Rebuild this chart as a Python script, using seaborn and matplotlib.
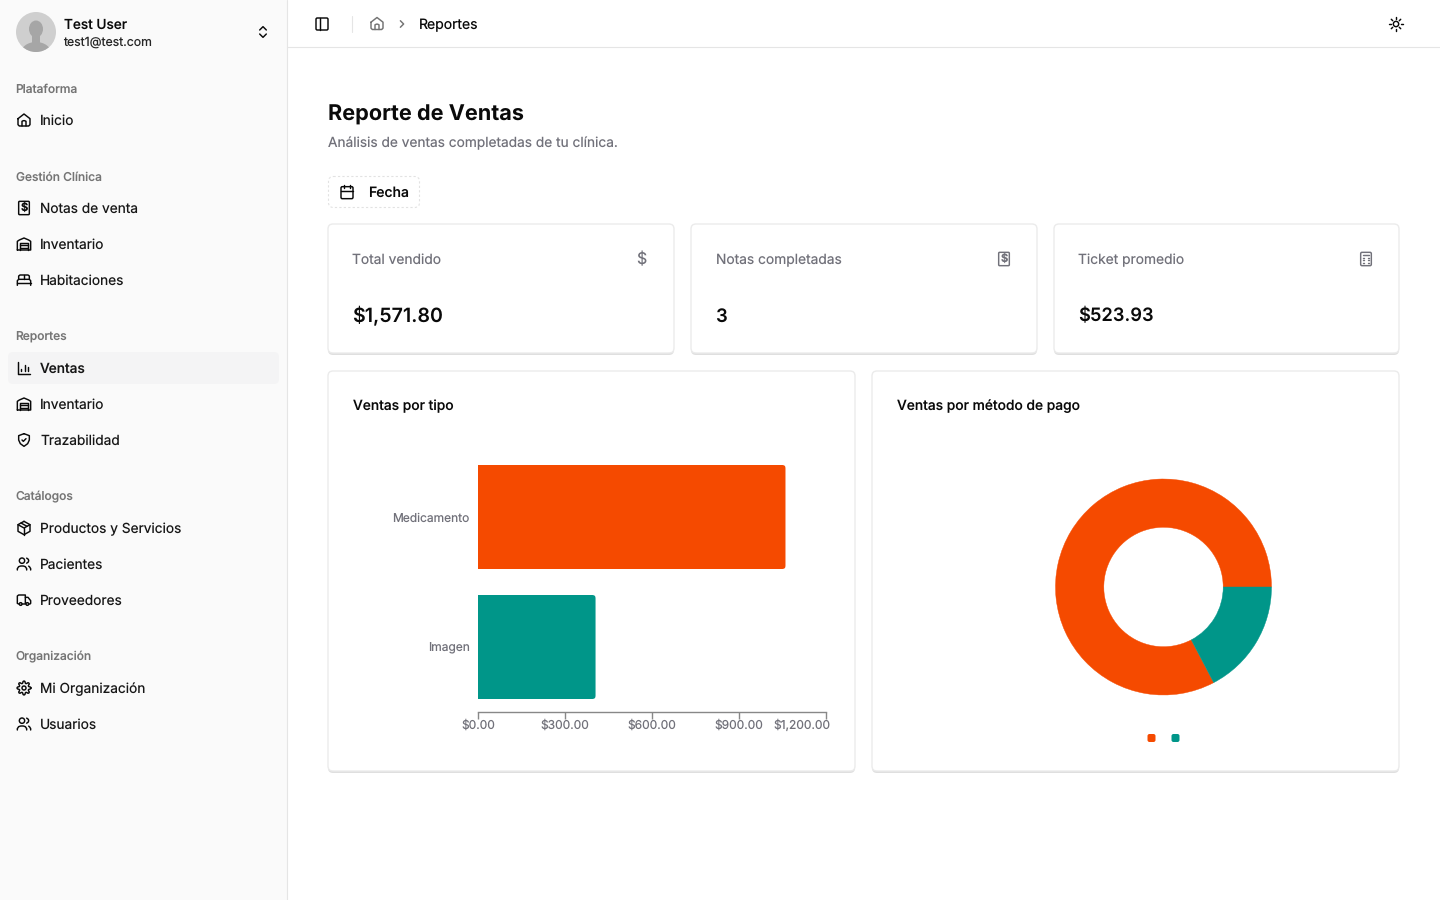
import numpy as np
import matplotlib
matplotlib.use('Agg')
import matplotlib.pyplot as plt
import seaborn as sns
from matplotlib.patches import Circle, Ellipse, FancyBboxPatch, Rectangle
from matplotlib.transforms import ScaledTranslation, IdentityTransform

# chart data
tipos = ['Medicamento', 'Imagen']
ventas_tipo = [1061, 406]
metodos = ['Efectivo', 'Tarjeta']
ventas_metodo = [1300, 272]
eje_ticks = [0, 300, 600, 900, 1200]
eje_labels = ['$0.00', '$300.00', '$600.00', '$900.00', '$1,200.00']
colores = ['#F54A00', '#009689']

# page text
kpi_titulos = ['Total vendido', 'Notas completadas', 'Ticket promedio']
kpi_valores = ['$1,571.80', '3', '$523.93']
kpi_px = [19.6, 18.5, 18.3]
secciones = ['Plataforma', 'Gestión Clínica', 'Reportes', 'Catálogos', 'Organización']
seccion_y = [88, 176, 336, 496, 656]
items = ['Inicio', 'Notas de venta', 'Inventario', 'Habitaciones', 'Ventas', 'Inventario',
         'Trazabilidad', 'Productos y Servicios', 'Pacientes', 'Proveedores',
         'Mi Organización', 'Usuarios']
item_y = [120, 208, 244, 280, 368, 404, 440, 528, 564, 600, 688, 724]
item_icon = ['house', 'receipt', 'warehouse', 'bed', 'chart', 'warehouse', 'shield', 'box',
             'users', 'truck', 'gear', 'users']

W, H = 1440, 900
INK = '#0a0a0a'
MUTED = '#71717a'
BORDER = '#e5e5e5'


def rays(n, r1, r2):
    out = []
    for k in range(n):
        a = 2 * np.pi * k / n
        out.append(('l', [(12 + r1 * np.cos(a), 12 + r1 * np.sin(a)),
                          (12 + r2 * np.cos(a), 12 + r2 * np.sin(a))]))
    return out


def cog():
    # outline with eight rounded lobes
    a = np.linspace(0, 2 * np.pi, 121)
    r = 8.8 + 1.6 * np.sign(np.cos(8 * a)) * np.abs(np.cos(8 * a)) ** 0.6
    return [('l', list(zip(12 + r * np.cos(a), 12 + r * np.sin(a))))]


ICONS = {
    'house': [('l', [(3, 10), (12, 3), (21, 10), (21, 19), (19, 21), (5, 21), (3, 19), (3, 10)]),
              ('l', [(9, 21), (9, 14), (11, 13), (13, 13), (15, 14), (15, 21)])],
    'receipt': [('r', 4, 2, 16, 20, 1.5), ('t', '$')],
    'warehouse': [('l', [(2, 21), (2, 8), (5, 6), (12, 3), (19, 6), (22, 8), (22, 21), (2, 21)]),
                  ('l', [(6, 21), (6, 11), (18, 11), (18, 21)]),
                  ('l', [(6, 14), (18, 14)]), ('l', [(6, 17.5), (18, 17.5)])],
    'bed': [('l', [(4, 11), (4, 6), (6, 4.5), (18, 4.5), (20, 6), (20, 11)]),
            ('l', [(12, 4.5), (12, 11)]),
            ('l', [(2, 20), (2, 13), (4, 11), (20, 11), (22, 13), (22, 20)]),
            ('l', [(2, 17), (22, 17)])],
    'chart': [('l', [(3, 3), (3, 21), (21, 21)]), ('l', [(8, 17), (8, 13)]),
              ('l', [(13, 17), (13, 7)]), ('l', [(18, 17), (18, 10)])],
    'shield': [('l', [(12, 2.5), (20, 5.5), (20, 12), (17.5, 17.5), (12, 21.5), (6.5, 17.5),
                      (4, 12), (4, 5.5), (12, 2.5)]),
               ('l', [(9, 12), (11, 14), (15, 10)])],
    'box': [('l', [(12, 2), (21, 7), (21, 17), (12, 22), (3, 17), (3, 7), (12, 2)]),
            ('l', [(3, 7), (12, 12), (21, 7)]), ('l', [(12, 12), (12, 22)]),
            ('l', [(7.5, 4.5), (16.5, 9.5)])],
    'users': [('c', 9, 7, 4),
              ('l', [(2, 21), (2, 19), (4, 16), (7, 15), (11, 15), (14, 16), (16, 19), (16, 21)]),
              ('l', [(16, 3.2), (18.5, 5), (19, 7), (18.5, 9), (16, 10.8)]),
              ('l', [(22, 21), (22, 19), (20.5, 16.5), (19, 15.2)])],
    'truck': [('l', [(4, 18), (2, 17), (2, 6), (4, 4.5), (14, 4.5), (14, 18), (9, 18)]),
              ('l', [(14, 8), (18, 8), (22, 13), (22, 17), (21, 18), (19, 18)]),
              ('c', 7, 18, 2), ('c', 17, 18, 2)],
    'gear': [('c', 12, 12, 3)] + cog(),
    'panel': [('r', 3, 3, 18, 18, 2), ('l', [(9, 3), (9, 21)])],
    'sun': [('c', 12, 12, 4)] + rays(8, 7, 10),
    'calendar': [('r', 3, 4, 18, 18, 2), ('l', [(8, 2), (8, 6)]), ('l', [(16, 2), (16, 6)]),
                 ('l', [(3, 10), (21, 10)])],
    'calc': [('r', 4, 2, 16, 20, 2), ('l', [(8, 6), (16, 6)])]
            + [('l', [(x, y), (x + 1.4, y)]) for x in (7.5, 11.3, 15.1) for y in (10.5, 14, 17.5)],
    'updown': [('l', [(7, 9), (12, 4), (17, 9)]), ('l', [(7, 15), (12, 20), (17, 15)])],
    'chevron': [('l', [(9, 6), (15, 12), (9, 18)])],
}


def icon(ax, name, x, y, size=16, color=INK, lw=1.05):
    # x, y is the icon centre in pixels
    s = size / 24
    ox, oy = x - size / 2, y - size / 2
    for p in ICONS[name]:
        if p[0] == 'l':
            pts = np.array(p[1], dtype=float) * s + [ox, oy]
            ax.plot(pts[:, 0], pts[:, 1], color=color, lw=lw, solid_capstyle='round',
                    solid_joinstyle='round', zorder=6)
        elif p[0] == 'c':
            ax.add_patch(Circle((ox + p[1] * s, oy + p[2] * s), p[3] * s, fill=False,
                                ec=color, lw=lw, zorder=6))
        elif p[0] == 'r':
            ax.add_patch(FancyBboxPatch((ox + p[1] * s, oy + p[2] * s), p[3] * s, p[4] * s,
                                        boxstyle='round,pad=0,rounding_size=%f' % (p[5] * s),
                                        fill=False, ec=color, lw=lw, zorder=6))
        else:
            ax.text(x, y + 0.3, p[1], fontsize=size * 0.5, fontweight='bold', color=color,
                    ha='center', va='center', zorder=6)


def label(ax, x, y, txt, px=14, color=INK, weight='normal', ha='left'):
    # baseline placement keeps rows level whatever the descenders do
    ax.text(x, y + px * 0.36 + 0.1, txt, fontsize=px * 0.72, color=color, fontweight=weight,
            ha=ha, va='baseline')


def card(ax, l, t, r, b):
    # soft shadow first, then the card itself
    ax.add_patch(FancyBboxPatch((l, t + 2), r - l, b - t, boxstyle='round,pad=0,rounding_size=5',
                                fc='#dfdfdf', ec='none', zorder=1))
    ax.add_patch(FancyBboxPatch((l, t), r - l, b - t, boxstyle='round,pad=0,rounding_size=5',
                                fc='white', ec='#ebebeb', lw=1, zorder=2))


def px_axes(l, t, r, b):
    return fig.add_axes([l / W, 1 - b / H, (r - l) / W, (b - t) / H])


sns.set_theme(style='white')
plt.rcParams['font.family'] = ['Inter', 'DejaVu Sans']
plt.rcParams['text.hinting'] = 'none'

fig = plt.figure(figsize=(W / 100, H / 100), dpi=100, facecolor='white')

# page chrome, drawn in pixel coordinates
bg = fig.add_axes([0, 0, 1, 1])
bg.set_xlim(0, W)
bg.set_ylim(H, 0)
bg.axis('off')

bg.add_patch(Rectangle((0, 0), 287, H, fc='#fafafa', ec='none', zorder=0))
bg.plot([287, 287], [0, H], color=BORDER, lw=0.8, zorder=1)
bg.plot([287, W], [47, 47], color=BORDER, lw=0.8, zorder=1)

# user block
avatar = Circle((36, 32), 20, fc='#cfcfcf', ec='none', zorder=2)
bg.add_patch(avatar)
head = Ellipse((36, 29), 14, 17, fc='#a6a6a6', ec='none', zorder=3)
neck = Rectangle((32, 33), 8, 10, fc='#a6a6a6', ec='none', zorder=3)
body = Ellipse((36, 53), 30, 22, fc='#a6a6a6', ec='none', zorder=3)
for part in (head, neck, body):
    bg.add_patch(part)
    part.set_clip_path(avatar)
label(bg, 64, 24, 'Test User', 13.6, INK, 'medium')
label(bg, 63.5, 41, 'test1@test.com', 12.3, '#262626')
icon(bg, 'updown', 263, 32, 16)

for txt, y in zip(secciones, seccion_y):
    label(bg, 15.5, y, txt, 12, '#757575', 'medium')

bg.add_patch(FancyBboxPatch((8, 352), 271, 32, boxstyle='round,pad=0,rounding_size=5',
                            fc='#f4f4f5', ec='none', zorder=1))
for txt, y, ic in zip(items, item_y, item_icon):
    icon(bg, ic, 24, y)
    label(bg, 40, y, txt, 13.7, '#171717', 'medium' if txt == 'Ventas' else 'normal')

# top bar
icon(bg, 'panel', 322, 24, 16)
bg.plot([352, 352], [16, 32], color=BORDER, lw=0.8)
icon(bg, 'house', 377, 23.5, 16, '#737373')
icon(bg, 'chevron', 402, 24, 13, '#737373')
label(bg, 419, 24, 'Reportes', 14)
icon(bg, 'sun', 1396, 24, 16)

# heading
label(bg, 328, 113, 'Reporte de Ventas', 21.7, INK, 'bold')
label(bg, 328, 142, 'Análisis de ventas completadas de tu clínica.', 13.7, MUTED)

# date button
bg.add_patch(FancyBboxPatch((328.5, 176.5), 91, 31, boxstyle='round,pad=0,rounding_size=5',
                            fc='white', ec='#e2e2e2', lw=0.8, ls=(0, (2, 2)), zorder=2))
icon(bg, 'calendar', 347, 192, 16)
label(bg, 368.5, 192, 'Fecha', 14, INK, 'medium')

# KPI cards
kpi_x = [(328, 674), (691, 1037), (1054, 1399)]
for (l, r), t, v, px, ic in zip(kpi_x, kpi_titulos, kpi_valores, kpi_px, ['$', 'receipt', 'calc']):
    card(bg, l, 224, r, 353)
    label(bg, l + 24.5, 259, t, 13.8, MUTED)
    label(bg, l + 24.5, 314.6, v, px, INK, 'semibold')
    if ic == '$':
        bg.text(r - 33, 260, '$', fontsize=11.5, color=MUTED, ha='center', va='center', zorder=6)
    else:
        icon(bg, ic, r - 33, 259, 16, MUTED)

# chart cards
card(bg, 328, 371, 855, 771)
card(bg, 872, 371, 1399, 771)
label(bg, 353, 405, 'Ventas por tipo', 13.8, INK, 'medium')
label(bg, 897, 405, 'Ventas por método de pago', 13.8, INK, 'medium')

# bars
ax = px_axes(478, 452, 826, 712)
ax.patch.set_alpha(0)
sns.barplot(x=ventas_tipo, y=tipos, hue=tipos, palette=colores, saturation=1, width=0.8,
            legend=False, ax=ax, orient='h', edgecolor='none', linewidth=0)
ax.set_xlim(0, 1200)
ax.set_xticks(eje_ticks, eje_labels)
ax.tick_params(axis='x', length=5, width=1, color='#888888', pad=0.8, labelsize=12 * 0.72,
               labelcolor=MUTED, bottom=True, direction='out')
ax.tick_params(axis='y', length=0, pad=6, labelsize=12 * 0.72, labelcolor=MUTED)
sns.despine(ax=ax, left=True)
ax.spines['bottom'].set_color('#888888')
ax.spines['bottom'].set_linewidth(1)
ax.set_xlabel('')
ax.set_ylabel('')

# last tick label is pulled back inside the card
last = ax.get_xticklabels()[-1]
last.set_ha('right')
last.set_transform(last.get_transform() + ScaledTranslation(5 / 100, 1 / 100, fig.dpi_scale_trans))

# round the right-hand corners of the bars
for bar in ax.patches:
    bar.set_snap(False)
    e = bar.get_window_extent()
    clip = FancyBboxPatch((e.x0 - 10, e.y0), e.width + 10, e.height,
                          boxstyle='round,pad=0,rounding_size=3.5', transform=IdentityTransform())
    bar.set_clip_path(clip)

# donut
pie_ax = px_axes(1163.5 - 108, 587 - 108, 1163.5 + 108, 587 + 108)
wedges, _ = pie_ax.pie(ventas_metodo, colors=colores, startangle=0, counterclock=True, radius=1,
                       wedgeprops={'width': 48.3 / 108})
for wedge, c in zip(wedges, colores):
    wedge.set_edgecolor(c)
    wedge.set_linewidth(0.3)
pie_ax.set_xlim(-1, 1)
pie_ax.set_ylim(-1, 1)

# legend swatches, the original shows them without names
for x, c in zip([1151.5, 1175.5], colores):
    bg.add_patch(FancyBboxPatch((x - 4, 734), 8, 8, boxstyle='round,pad=0,rounding_size=2',
                                fc=c, ec='none', zorder=3))

fig.savefig('out.png', dpi=100, facecolor='white')
